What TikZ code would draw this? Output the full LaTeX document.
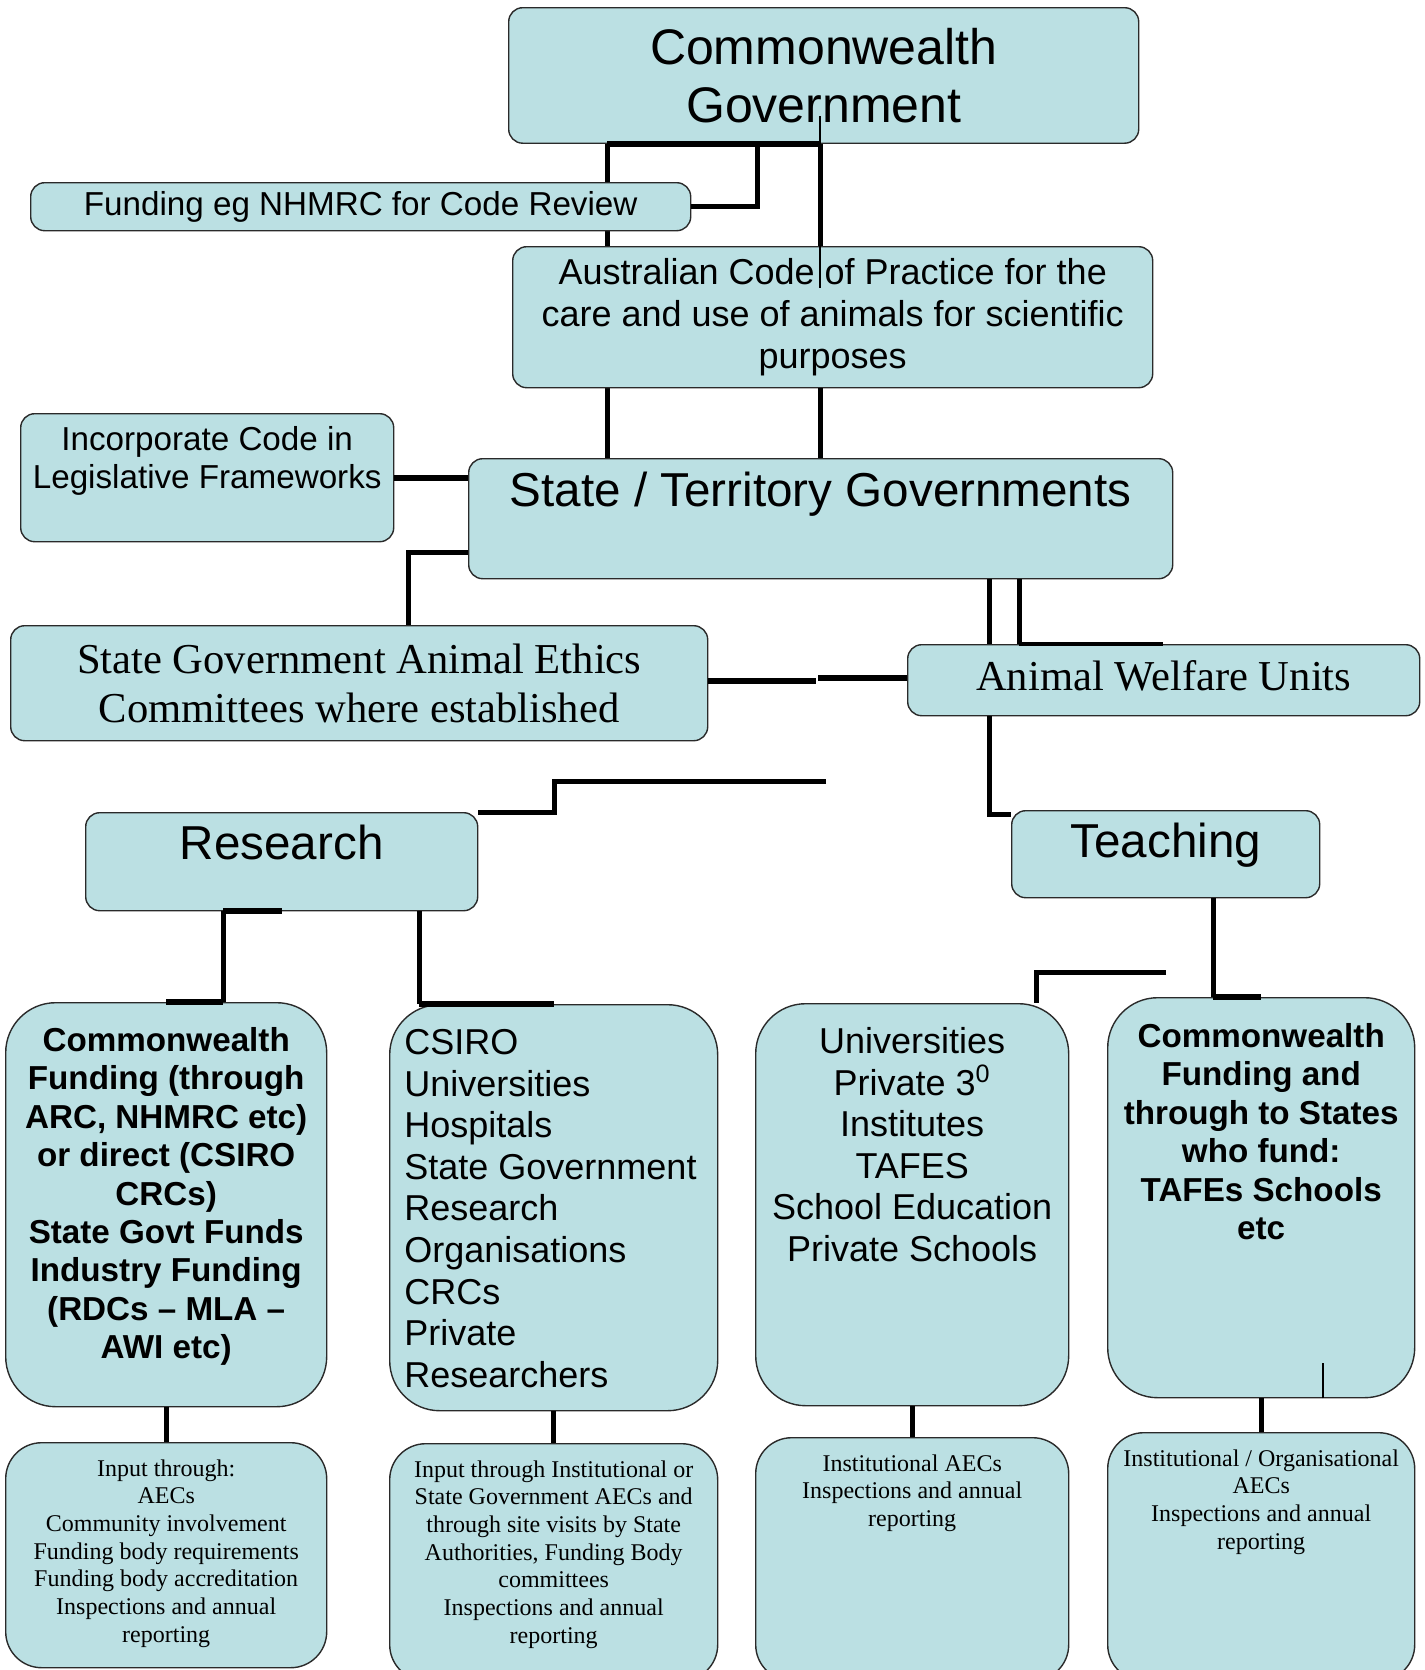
\documentclass[tikz,border=0pt]{standalone}
\usepackage{fontspec}
\setmainfont{Liberation Sans}
\newfontfamily\timesface{Liberation Serif}
\usepackage{tikz}
\usetikzlibrary{positioning,backgrounds}
\definecolor{boxblue}{HTML}{BBE0E3}
\definecolor{edge}{HTML}{2A2A2A}
\tikzset{
  orgbox/.style={draw=edge,fill=boxblue,line width=.7pt,inner sep=0pt,anchor=north west,align=center},
  topbox/.style={orgbox,rounded corners=7pt},
  tallbox/.style={orgbox,rounded corners=25pt},
  footbox/.style={orgbox,rounded corners=18pt},
  boxtext/.style={inner sep=0pt,align=center},
  link/.style={draw=black,line width=2.5pt},
  heavy/.style={draw=black,line width=3pt},
  slim/.style={draw=black,line width=1.8pt},
  hair/.style={draw=black,line width=.6pt},
  govfont/.style={font=\fontsize{25}{28.75}\selectfont},
  headfont/.style={font=\fontsize{23.8}{27.4}\selectfont},
  bodyfont/.style={font=\fontsize{18}{20.8}\selectfont},
  notefont/.style={font=\fontsize{16.6}{19}\selectfont},
  boldfont/.style={font=\fontsize{16.6}{19.2}\selectfont\bfseries},
  serifhead/.style={font=\timesface\fontsize{21.3}{24.5}\selectfont},
  seriffoot/.style={font=\timesface\fontsize{12}{13.85}\selectfont}
}
\begin{document}
\begin{tikzpicture}[x=0.5pt,y=-0.5pt]
  \useasboundingbox (0,0) rectangle (1424,1670);
  % government levels
  \node[topbox,minimum width=315pt,minimum height=67.75pt,govfont] (cwg) at (508,7) {Commonwealth\\Government};
  \node[topbox,minimum width=330pt,minimum height=24pt,notefont] (fund) at (30,182) {Funding eg NHMRC for Code Review};
  \node[topbox,minimum width=320pt,minimum height=70.5pt,bodyfont] (code) at (512,246) {Australian Code of Practice for the\\care and use of animals for scientific\\purposes};
  \node[topbox,minimum width=186.5pt,minimum height=64pt] (incorp) at (20,413) {};
  \node[boxtext,notefont,below=6.5pt of incorp.north] (incorptext) {Incorporate Code in\\Legislative Frameworks};
  \node[topbox,minimum width=352pt,minimum height=60pt] (stg) at (468,458) {};
  \node[boxtext,headfont,below=7pt of stg.north] (stgtext) {State / Territory Governments};
  \node[topbox,minimum width=348.5pt,minimum height=57.5pt,serifhead] (sgaec) at (10,625) {State Government Animal Ethics\\Committees where established};
  \node[topbox,minimum width=256pt,minimum height=35.5pt,serifhead,text depth=5pt] (awu) at (907,644) {Animal Welfare Units};
  % research and teaching
  \node[topbox,minimum width=196pt,minimum height=49pt] (res) at (85,812) {};
  \node[boxtext,headfont,below=6.5pt of res.north] (restext) {Research};
  \node[topbox,minimum width=154pt,minimum height=43.5pt] (teach) at (1011,810) {};
  \node[boxtext,headfont,below=6.5pt of teach.north] (teachtext) {Teaching};
  \node[tallbox,minimum width=160.5pt,minimum height=202pt] (rfund) at (5,1002) {};
  \node[boxtext,boldfont,below=12.5pt of rfund.north] (rfundtext) {Commonwealth\\Funding (through\\ARC, NHMRC etc)\\or direct (CSIRO\\CRCs)\\State Govt Funds\\Industry Funding\\(RDCs – MLA –\\AWI etc)};
  \node[tallbox,minimum width=164pt,minimum height=203pt] (rorg) at (389,1004) {};
  \node[boxtext,align=left,bodyfont,below right=12.5pt and 7.5pt of rorg.north west] (rorgtext) {CSIRO\\Universities\\Hospitals\\State Government\\Research\\Organisations\\CRCs\\Private\\Researchers};
  \node[tallbox,minimum width=156.5pt,minimum height=201pt] (tinst) at (755,1003) {};
  \node[boxtext,bodyfont,below=12pt of tinst.north] (tinsttext) {Universities\\Private 3\textsuperscript{0}\\Institutes\\TAFES\\School Education\\Private Schools};
  \node[tallbox,minimum width=153.5pt,minimum height=200pt] (tfund) at (1107,997) {};
  \node[boxtext,boldfont,below=13pt of tfund.north] (tfundtext) {Commonwealth\\Funding and\\through to States\\who fund:\\TAFEs Schools\\etc};
  % inspection and reporting
  \node[footbox,minimum width=160.5pt,minimum height=112.5pt] (rfundin) at (5,1442) {};
  \node[boxtext,seriffoot,below=8.5pt of rfundin.north] (rfundintext) {Input through:\\AECs\\Community involvement\\Funding body requirements\\Funding body accreditation\\Inspections and annual\\reporting};
  \node[footbox,minimum width=164pt,minimum height=118.5pt] (rorgin) at (389,1443) {};
  \node[boxtext,seriffoot,below=8.5pt of rorgin.north] (rorgintext) {Input through Institutional or\\State Government AECs and\\through site visits by State\\Authorities, Funding Body\\committees\\Inspections and annual\\reporting};
  \node[footbox,minimum width=156.5pt,minimum height=121.5pt] (tinstin) at (755,1437) {};
  \node[boxtext,seriffoot,below=8.5pt of tinstin.north] (tinstintext) {Institutional AECs\\Inspections and annual\\reporting};
  \node[footbox,minimum width=153.5pt,minimum height=124pt] (tfundin) at (1107,1432) {};
  \node[boxtext,seriffoot,below=8.5pt of tfundin.north] (tfundintext) {Institutional / Organisational\\AECs\\Inspections and annual\\reporting};
  % connectors
  \begin{scope}[on background layer]
    \draw[link] (cwg.south -| 607,0) -- (stg.north -| 607,0);
  \end{scope}
  \draw[heavy] (cwg.south -| 607,0) -- (cwg.south -| 820,0);
  \draw[link] (cwg.south -| 757,0) |- (fund.east);
  \draw[link] (cwg.south -| 820,0) -- (code.north -| 820,0);
  \draw[hair] (cwg.south -| 820,0) ++(0,-28) -- ++(0,172);
  \draw[link] (code.south -| 820,0) -- (stg.north -| 820,0);
  \draw[heavy] (incorp.east) -- (incorp.east -| stg.west);
  \draw[link] (stg.west |- 0,552) -| (sgaec.north -| 408,0);
  \draw[heavy] ([yshift=1pt]sgaec.east) -- ++(108,0);
  \draw[heavy] ([yshift=1pt]awu.west) -- ++(-89,0);
  \draw[link] (stg.south -| 989,0) -- (awu.north -| 989,0);
  \draw[link] (stg.south -| 1019,0) -- (awu.north -| 1019,0);
  \draw[slim] (awu.north -| 1019,0) -- (awu.north -| 1163,0);
  \draw[link] (awu.south -| 989,0) |- ([yshift=-2pt]teach.north west);
  \coordinate (resend) at (826,781);
  \draw[link] (resend) -- ++(-272,0) |- (res.north east);
  \draw[link] (res.south -| 223,0) -- (rfund.north -| 223,0);
  \draw[heavy] (res.south -| 223,0) -- (res.south);
  \draw[heavy] (rfund.north -| 223,0) -- (rfund.north);
  \draw[link] (res.south -| 419,0) -- (rorg.north -| 419,0);
  \draw[heavy] (rorg.north -| 419,0) -- (rorg.north);
  \coordinate (teachend) at (1166,972);
  \draw[link] (teachend) -| (tinst.north -| 1036,0);
  \draw[link] (teach.south -| 1213,0) -- (tfund.north -| 1213,0);
  \draw[heavy] (tfund.north -| 1213,0) -- (tfund.north);
  \draw[hair] (tfund.south -| 1323,0) -- ++(0,-35);
  \draw[link] (rfund.south) -- (rfundin.north);
  \draw[link] (rorg.south) -- (rorgin.north);
  \draw[link] (tinst.south) -- (tinstin.north);
  \draw[link] (tfund.south) -- (tfundin.north);
\end{tikzpicture}
\end{document}
